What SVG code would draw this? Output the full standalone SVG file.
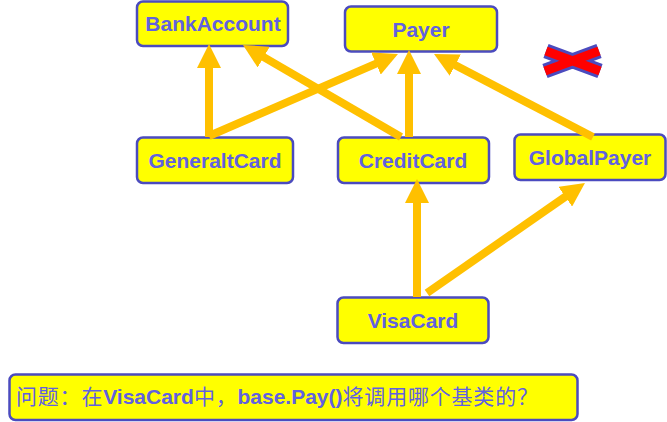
<svg xmlns="http://www.w3.org/2000/svg" width="667" height="422" viewBox="0 0 667 422">
<style>
.box{fill:#FFFF00;stroke:#4B4BBF;stroke-width:2.5}
.lbl{font-family:"Liberation Sans",Arial,sans-serif;font-weight:bold;font-size:21px;fill:#6161E0;text-anchor:middle}
.q{font-family:"Liberation Sans","Noto Sans CJK SC",sans-serif;font-weight:bold;font-size:21px;fill:#6161E0}
.cjk{font-family:"Noto Sans CJK SC",sans-serif;font-weight:normal;letter-spacing:0.8px}
.arr{stroke:#FFC000;stroke-width:8;fill:none;marker-end:url(#ah)}
</style>
<defs>
<marker id="ah" viewBox="0 0 24 24" markerWidth="24" markerHeight="24" markerUnits="userSpaceOnUse" refX="2" refY="12" orient="auto">
<path d="M0,0 L24,12 L0,24 z" fill="#FFC000"/>
</marker>
</defs>
<g id="BankAccount"><rect class="box" x="137" y="1.5" width="151" height="44.5" rx="6"/><text class="lbl" x="213" y="31">BankAccount</text></g>
<g id="Payer"><rect class="box" x="345" y="6.5" width="152" height="45" rx="6"/><text class="lbl" x="421" y="37">Payer</text></g>
<g id="GeneraltCard"><rect class="box" x="137" y="137.5" width="156" height="45.5" rx="6"/><text class="lbl" x="215" y="168">GeneraltCard</text></g>
<g id="CreditCard"><rect class="box" x="338" y="137.5" width="151" height="45.5" rx="6"/><text class="lbl" x="413" y="168">CreditCard</text></g>
<g id="GlobalPayer"><rect class="box" x="514.5" y="134.5" width="151" height="45.5" rx="6"/><text class="lbl" x="590" y="165">GlobalPayer</text></g>
<g id="VisaCard"><rect class="box" x="337.5" y="297.5" width="151" height="45.5" rx="6"/><text class="lbl" x="413" y="328">VisaCard</text></g>
<g id="question"><rect class="box" x="9.5" y="374.5" width="568" height="45.5" rx="6"/><text class="q" x="16" y="404"><tspan class="cjk">问题：在</tspan>VisaCard<tspan class="cjk">中，</tspan>base.Pay()<tspan class="cjk">将调用哪个基类的？</tspan></text></g>
<g id="cross">
<path d="M546,51 L600,71 M545,71 L599,51" stroke="#4B4BBF" stroke-width="15" fill="none"/>
<path d="M546,51 L600,71 M545,71 L599,51" stroke="#FF0000" stroke-width="9" fill="none"/>
</g>
<g id="connectors">
<line class="arr" x1="209" y1="137" x2="209" y2="66"/>
<line class="arr" x1="209" y1="136" x2="377.8" y2="62.8"/>
<line class="arr" x1="401" y1="137" x2="262" y2="56.1"/>
<line class="arr" x1="409" y1="137" x2="409" y2="72"/>
<line class="arr" x1="593" y1="137" x2="453.5" y2="64.2"/>
<line class="arr" x1="417" y1="297" x2="417" y2="201"/>
<line class="arr" x1="427" y1="293" x2="566.9" y2="195.6"/>
</g>
</svg>
